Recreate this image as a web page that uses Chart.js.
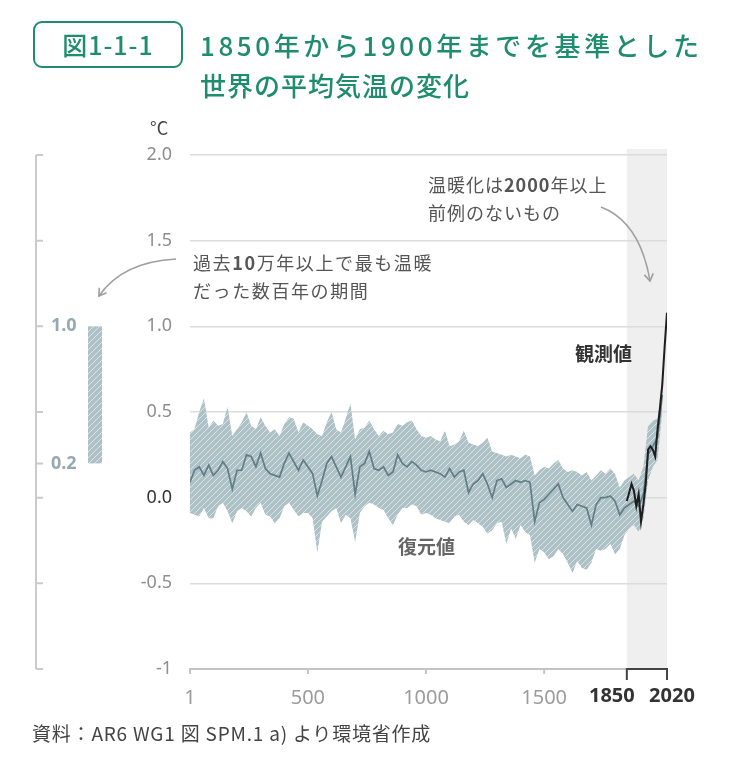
<!DOCTYPE html>
<html lang="ja">
<head>
<meta charset="utf-8">
<script src="https://cdn.jsdelivr.net/npm/chart.js@4.4.1/dist/chart.umd.min.js"></script>
<style>
  body { margin: 0; background: #fff; }
  #wrap { position: relative; width: 730px; height: 758px; overflow: hidden;
          font-family: "Noto Sans CJK JP", "Noto Sans", sans-serif; }
  #chart { position: absolute; left: 0; top: 0; }
  .txt { position: absolute; white-space: nowrap; }
  #figno { left: 33px; top: 21px; width: 150px; height: 47px; box-sizing: border-box;
           border: 2px solid #1e8c6e; border-radius: 9px; color: #1e8c6e;
           font-size: 25px; font-weight: 500; line-height: 43px; text-align: center; letter-spacing: 1px; }
  #title { left: 200px; top: 25px; color: #1e8c6e; font-size: 26px; font-weight: 500; line-height: 40px; }
  #title .l1 { letter-spacing: 3.6px; }
  #title .l2 { letter-spacing: 1px; }
  #unit { left: 150px; top: 113px; font-size: 18px; color: #444; line-height: 28px; }
  .note { font-size: 18px; color: #555; line-height: 28px; letter-spacing: 1px; }
  #note1 { left: 193px; top: 248px; letter-spacing: 1.6px; }
  #note2 { left: 428px; top: 170px; }
  #obsLabel { left: 575px; top: 339px; font-size: 19px; font-weight: 700; color: #333; line-height: 28px; }
  #recLabel { left: 398px; top: 532px; font-size: 19px; font-weight: 700; color: #666; line-height: 28px; }
  #source { left: 32px; top: 719px; font-size: 19px; color: #444; line-height: 28px; letter-spacing: 0.8px; }
  svg { position: absolute; left: 0; top: 0; }
</style>
</head>
<body>
<div id="wrap">
  <canvas id="chart" width="730" height="758"></canvas>
  <svg width="730" height="758">
    <defs>
      <marker id="ah" markerWidth="12" markerHeight="12" refX="9" refY="6" orient="auto" markerUnits="userSpaceOnUse">
        <path d="M2,1.5 L9,6 L2,10.5" fill="none" stroke="#a0a0a0" stroke-width="1.6"/>
      </marker>
    </defs>
    <path d="M176 259 Q 122 262 99 296" fill="none" stroke="#a0a0a0" stroke-width="1.6" marker-end="url(#ah)"/>
    <path d="M601 207 Q 640 222 650 281" fill="none" stroke="#a0a0a0" stroke-width="1.6" marker-end="url(#ah)"/>
  </svg>
  <div class="txt" id="figno">図1-1-1</div>
  <div class="txt" id="title"><span class="l1">1850年から1900年までを基準とした</span><br><span class="l2">世界の平均気温の変化</span></div>
  <div class="txt" id="unit">°C</div>
  <div class="txt note" id="note1">過去<b>10</b>万年以上で最も温暖<br>だった数百年の期間</div>
  <div class="txt note" id="note2">温暖化は<b>2000</b>年以上<br>前例のないもの</div>
  <div class="txt" id="obsLabel">観測値</div>
  <div class="txt" id="recLabel">復元値</div>
  <div class="txt" id="source">資料：AR6 WG1 図 SPM.1 a) より環境省作成</div>
</div>
<script>
// reconstruction (復元値): years, median, and upper/lower edges of the range
const reconYears = [1, 20, 40, 60, 80, 100, 120, 140, 160, 180,
  200, 220, 240, 260, 280, 300, 320, 340, 360, 380,
  400, 420, 440, 460, 480, 500, 520, 540, 560, 580,
  600, 620, 640, 660, 680, 700, 720, 740, 760, 780,
  800, 820, 840, 860, 880, 900, 920, 940, 960, 980,
  1000, 1020, 1040, 1060, 1080, 1100, 1120, 1140, 1160, 1180,
  1200, 1220, 1240, 1260, 1280, 1300, 1320, 1340, 1360, 1380,
  1400, 1420, 1440, 1460, 1480, 1500, 1520, 1540, 1560, 1580,
  1600, 1620, 1640, 1660, 1680, 1700, 1720, 1740, 1760, 1780,
  1800, 1820, 1840, 1860, 1880, 1900, 1920, 1940, 1960, 1980, 2000];

const reconMedian = [0.09, 0.16, 0.18, 0.13, 0.19, 0.13, 0.16, 0.21, 0.17, 0.05,
  0.16, 0.16, 0.25, 0.24, 0.18, 0.26, 0.17, 0.14, 0.13, 0.12,
  0.20, 0.26, 0.21, 0.16, 0.22, 0.18, 0.14, 0.01, 0.10, 0.20,
  0.24, 0.18, 0.12, 0.18, 0.24, 0.02, 0.18, 0.20, 0.27, 0.17,
  0.16, 0.18, 0.13, 0.15, 0.25, 0.20, 0.18, 0.21, 0.19, 0.16,
  0.15, 0.16, 0.15, 0.14, 0.12, 0.17, 0.12, 0.15, 0.16, 0.03,
  0.08, 0.10, 0.14, 0.08, 0.00, 0.10, 0.11, 0.06, 0.08, 0.10,
  0.09, 0.10, 0.09, -0.14, -0.03, -0.01, 0.02, 0.05, 0.08, 0.00,
  -0.04, -0.08, -0.04, -0.05, -0.06, -0.16, -0.04, 0.00, 0.00, 0.01,
  -0.02, -0.10, -0.06, -0.04, -0.02, -0.05, 0.02, 0.25, 0.30, 0.35, 0.60];

const reconUpper = [0.38, 0.40, 0.50, 0.58, 0.41, 0.45, 0.42, 0.43, 0.53, 0.36,
  0.40, 0.44, 0.50, 0.42, 0.40, 0.47, 0.42, 0.38, 0.40, 0.36,
  0.43, 0.47, 0.46, 0.38, 0.44, 0.42, 0.40, 0.37, 0.36, 0.44,
  0.50, 0.40, 0.38, 0.46, 0.55, 0.34, 0.40, 0.41, 0.45, 0.40,
  0.36, 0.39, 0.37, 0.38, 0.43, 0.42, 0.44, 0.45, 0.40, 0.36,
  0.35, 0.36, 0.34, 0.33, 0.39, 0.30, 0.31, 0.33, 0.39, 0.32,
  0.31, 0.30, 0.32, 0.35, 0.27, 0.26, 0.25, 0.24, 0.25, 0.24,
  0.23, 0.25, 0.24, 0.13, 0.16, 0.18, 0.17, 0.20, 0.22, 0.17,
  0.15, 0.16, 0.15, 0.13, 0.15, 0.10, 0.13, 0.16, 0.14, 0.17,
  0.14, 0.06, 0.10, 0.12, 0.14, 0.10, 0.18, 0.42, 0.45, 0.46, 0.70];

const reconLower = [-0.09, -0.10, -0.11, -0.06, -0.12, -0.12, -0.05, -0.03, -0.08, -0.15,
  -0.08, -0.06, -0.08, -0.11, -0.06, -0.03, -0.10, -0.11, -0.15, -0.12,
  -0.05, -0.03, -0.07, -0.11, -0.09, -0.09, -0.12, -0.32, -0.14, -0.11,
  -0.08, -0.06, -0.15, -0.10, -0.12, -0.26, -0.09, -0.05, -0.03, -0.04,
  -0.06, -0.07, -0.12, -0.16, -0.10, -0.06, -0.06, -0.04, -0.05, -0.10,
  -0.09, -0.10, -0.12, -0.13, -0.14, -0.15, -0.11, -0.10, -0.14, -0.16,
  -0.13, -0.15, -0.17, -0.21, -0.19, -0.15, -0.14, -0.27, -0.18, -0.24,
  -0.16, -0.20, -0.22, -0.38, -0.30, -0.32, -0.36, -0.34, -0.30, -0.33,
  -0.38, -0.44, -0.37, -0.41, -0.42, -0.38, -0.30, -0.31, -0.30, -0.27,
  -0.33, -0.30, -0.22, -0.18, -0.16, -0.20, -0.12, 0.10, 0.18, 0.22, 0.50];

// observations (観測値)
const obsYears = [1850, 1860, 1870, 1880, 1890, 1900, 1910, 1920, 1930, 1940,
  1950, 1960, 1970, 1980, 1990, 2000, 2010, 2020];
const obsValues = [-0.02, 0.03, 0.08, 0.04, -0.05, 0.02, -0.14, -0.04, 0.08, 0.28,
  0.30, 0.28, 0.24, 0.40, 0.52, 0.66, 0.88, 1.08];

// axes
const xTicks = [1, 500, 1000, 1500, 1850, 2020];
const boldXTicks = [1850, 2020];
const yTicks = [2, 1.5, 1, 0.5, 0, -0.5, -1];
// left panel: warmest multi-century period in more than 100,000 years
const leftTicks = [2, 1.5, 1, 0.5, 0.2, 0, -0.5, -1];
const warmRange = [0.2, 1.0];
const instrumentalSpan = [1850, 2020];

function makeHatch(ctx) {
  const c = document.createElement('canvas');
  c.width = 6; c.height = 6;
  const g = c.getContext('2d');
  g.fillStyle = '#adc1c7';
  g.fillRect(0, 0, 6, 6);
  g.strokeStyle = 'rgba(228,236,238,0.8)';
  g.lineWidth = 1;
  g.beginPath();
  g.moveTo(0, 6); g.lineTo(6, 0);
  g.moveTo(-3, 3); g.lineTo(3, -3);
  g.moveTo(3, 9); g.lineTo(9, 3);
  g.stroke();
  return ctx.createPattern(c, 'repeat');
}

const canvas = document.getElementById('chart');
const hatch = makeHatch(canvas.getContext('2d'));
const pts = (xs, ys) => xs.map((x, i) => ({ x: x, y: ys[i] }));

// grey background for the instrumental period, under the grid
const spanShade = {
  id: 'spanShade',
  beforeDraw(chart) {
    const { ctx, chartArea, scales: { x } } = chart;
    const x0 = x.getPixelForValue(instrumentalSpan[0]);
    const x1 = x.getPixelForValue(instrumentalSpan[1]);
    ctx.save();
    ctx.fillStyle = '#efefef';
    ctx.fillRect(x0, chartArea.top - 6, x1 - x0, chartArea.bottom - chartArea.top + 6);
    ctx.restore();
  }
};

// x tick marks, 1850-2020 bracket and labels, and the left range panel
const extras = {
  id: 'extras',
  afterDraw(chart) {
    const { ctx, chartArea, scales: { x, y } } = chart;
    const base = chartArea.bottom;
    ctx.save();

    // small ticks below the axis line
    ctx.strokeStyle = '#c4c4c4';
    ctx.lineWidth = 2;
    ctx.beginPath();
    xTicks.filter(v => !boldXTicks.includes(v)).forEach(v => {
      const px = x.getPixelForValue(v);
      ctx.moveTo(px, base);
      ctx.lineTo(px, base + 5);
    });
    ctx.stroke();

    // bracket for the observed period
    const b0 = x.getPixelForValue(instrumentalSpan[0]);
    const b1 = x.getPixelForValue(instrumentalSpan[1]);
    ctx.strokeStyle = '#444';
    ctx.lineWidth = 2;
    ctx.beginPath();
    ctx.moveTo(b0, base + 11);
    ctx.lineTo(b0, base);
    ctx.lineTo(b1, base);
    ctx.lineTo(b1, base + 11);
    ctx.stroke();

    ctx.fillStyle = '#333';
    ctx.font = 'bold 20px "Noto Sans", sans-serif';
    ctx.textAlign = 'center';
    ctx.textBaseline = 'middle';
    ctx.fillText(String(boldXTicks[0]), b0 - 15, base + 27);
    ctx.fillText(String(boldXTicks[1]), b1 + 5, base + 27);

    // left panel axis
    const ax = 36;
    ctx.strokeStyle = '#cacaca';
    ctx.lineWidth = 2;
    ctx.beginPath();
    ctx.moveTo(ax, y.getPixelForValue(yTicks[0]));
    ctx.lineTo(ax, y.getPixelForValue(yTicks[yTicks.length - 1]));
    leftTicks.forEach(v => {
      const py = y.getPixelForValue(v);
      ctx.moveTo(ax, py);
      ctx.lineTo(ax + 7, py);
    });
    ctx.stroke();

    // warm period bar
    const top = y.getPixelForValue(warmRange[1]);
    const bot = y.getPixelForValue(warmRange[0]);
    ctx.fillStyle = hatch;
    ctx.fillRect(88, top, 14, bot - top);

    ctx.fillStyle = '#95aab0';
    ctx.font = 'bold 18px "Noto Sans", sans-serif';
    ctx.textAlign = 'left';
    warmRange.forEach(v => ctx.fillText(v.toFixed(1), 51, y.getPixelForValue(v)));

    ctx.restore();
  }
};

new Chart(canvas, {
  type: 'line',
  data: {
    datasets: [
      {
        label: '観測値',
        data: pts(obsYears, obsValues),
        borderColor: '#1e1e1e',
        borderWidth: 2,
        pointRadius: 0,
        fill: false
      },
      {
        label: '復元値',
        data: pts(reconYears, reconMedian),
        borderColor: '#627d85',
        borderWidth: 1.7,
        pointRadius: 0,
        fill: false
      },
      {
        label: 'upper',
        data: pts(reconYears, reconUpper),
        borderColor: 'rgba(0,0,0,0)',
        borderWidth: 0,
        pointRadius: 0,
        backgroundColor: hatch,
        fill: '+1'
      },
      {
        label: 'lower',
        data: pts(reconYears, reconLower),
        borderColor: 'rgba(0,0,0,0)',
        borderWidth: 0,
        pointRadius: 0,
        fill: false
      }
    ]
  },
  options: {
    responsive: false,
    animation: false,
    layout: { padding: { left: 110, right: 63, top: 155, bottom: 49 } },
    elements: { line: { tension: 0 } },
    plugins: { legend: { display: false }, tooltip: { enabled: false } },
    scales: {
      x: {
        type: 'linear',
        min: 1,
        max: 2020,
        afterBuildTicks: s => { s.ticks = xTicks.map(v => ({ value: v })); },
        afterFit: s => { s.height = 40; },
        grid: { display: false },
        border: { display: true, color: '#c4c4c4', width: 2 },
        ticks: {
          autoSkip: false,
          maxRotation: 0,
          padding: 9,
          color: '#9c9c9c',
          font: { family: '"Noto Sans", sans-serif', size: 20 },
          callback: v => boldXTicks.includes(v) ? '' : String(v)
        }
      },
      y: {
        min: -1,
        max: 2,
        afterBuildTicks: s => { s.ticks = yTicks.map(v => ({ value: v })); },
        afterFit: s => { s.width = 80; },
        grid: { color: '#dcdcdc', lineWidth: 1.5, drawTicks: false },
        border: { display: false },
        ticks: {
          padding: 18,
          color: c => c.tick.value === 0 ? '#333' : '#8e8e8e',
          font: { family: '"Noto Sans", sans-serif', size: 18 },
          callback: v => v === -1 ? '-1' : v.toFixed(1)
        }
      }
    }
  },
  plugins: [spanShade, extras]
});
</script>
</body>
</html>
